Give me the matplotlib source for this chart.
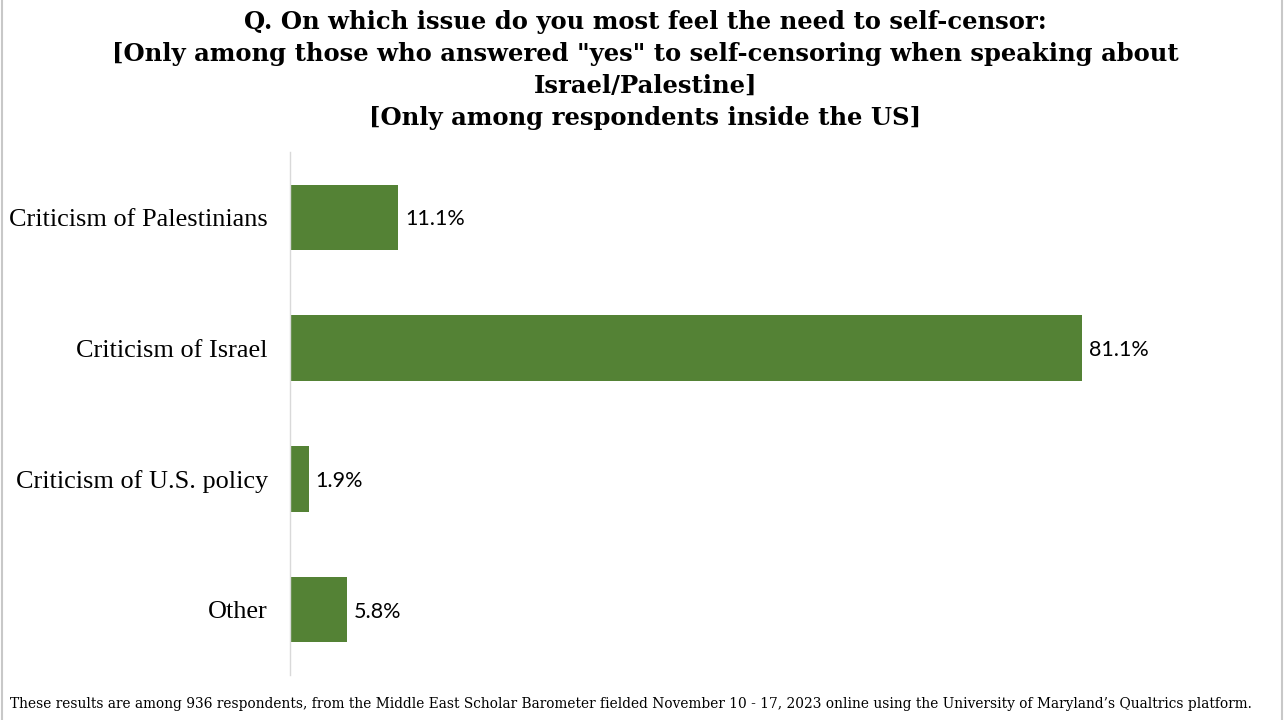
import matplotlib
matplotlib.use("Agg")
import matplotlib.pyplot as plt
from matplotlib.lines import Line2D

categories = ["Criticism of Palestinians", "Criticism of Israel", "Criticism of U.S. policy", "Other"]
values = [11.1, 81.1, 1.9, 5.8]
value_labels = ["11.1%", "81.1%", "1.9%", "5.8%"]

title = ('Q. On which issue do you most feel the need to self-censor:\n'
         '[Only among those who answered "yes" to self-censoring when speaking about\n'
         'Israel/Palestine]\n'
         '[Only among respondents inside the US]')
footnote = ("These results are among 936 respondents, from the Middle East Scholar Barometer fielded "
            "November 10 - 17, 2023 online using the University of Maryland\u2019s Qualtrics platform.")

fig = plt.figure(figsize=(12.84, 7.2), dpi=100)
ax = fig.add_axes([290/1284, 45/720, 976.6/1284, 523/720])

y = list(range(len(categories)))
ax.barh(y, values, height=0.5, color="#548235")
ax.set_xlim(0, 100)
ax.set_ylim(len(categories) - 0.5, -0.5)
ax.set_yticks(y)
ax.set_yticklabels(categories, fontsize=18.9, family="Liberation Serif")
ax.tick_params(axis="y", length=0, pad=16)
ax.set_xticks([])
for s in ["top", "right", "bottom"]:
    ax.spines[s].set_visible(False)
ax.spines["left"].set_color("#d9d9d9")
ax.spines["left"].set_linewidth(1)

for yi, v, lab in zip(y, values, value_labels):
    ax.text(v + 0.7, yi, lab, va="center_baseline", ha="left", fontsize=15.5, family="Lato")

fig.text(0.5025, 1 - 9.5/720, title, ha="center", va="top", fontsize=17.5, fontweight="bold",
         family="DejaVu Serif", linespacing=1.43)
fig.text(10/1284, 1 - 704/720, footnote, ha="left", va="center", fontsize=9.93, family="DejaVu Serif")

fig.add_artist(Line2D([2/1284, 2/1284], [0, 1], color="#c8c8c8", lw=1.5, transform=fig.transFigure))
fig.add_artist(Line2D([1282/1284, 1282/1284], [0, 1], color="#c8c8c8", lw=1.5, transform=fig.transFigure))

fig.savefig("out.png", dpi=100)
